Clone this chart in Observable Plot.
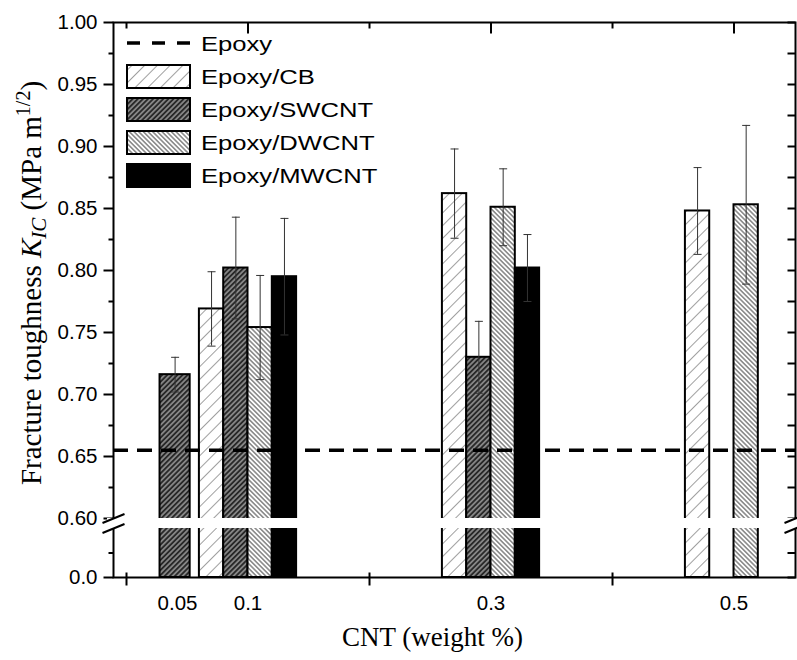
<!DOCTYPE html>
<html>
<head>
<meta charset="utf-8">
<script src="https://cdn.jsdelivr.net/npm/d3@7"></script>
<script src="https://cdn.jsdelivr.net/npm/@observablehq/plot@0.6"></script>
<style>
  html, body { margin: 0; padding: 0; background: #fff; overflow: hidden; }
  #chart { position: relative; width: 797px; height: 660px; }
</style>
</head>
<body>
<svg width="0" height="0" style="position:absolute">
  <defs>
    <pattern id="pat-cb" patternUnits="userSpaceOnUse" width="9" height="9" patternTransform="rotate(45)">
      <rect width="9" height="9" fill="#ffffff"/>
      <line x1="4.5" y1="0" x2="4.5" y2="9" stroke="#a0a0a0" stroke-width="1"/>
    </pattern>
    <pattern id="pat-sw" patternUnits="userSpaceOnUse" width="3.6" height="3.6" patternTransform="rotate(45)">
      <rect width="3.6" height="3.6" fill="#858585"/>
      <line x1="1.8" y1="0" x2="1.8" y2="3.6" stroke="#222222" stroke-width="1.7"/>
    </pattern>
    <pattern id="pat-dw" patternUnits="userSpaceOnUse" width="3.3" height="3.3" patternTransform="rotate(-45)">
      <rect width="3.3" height="3.3" fill="#ffffff"/>
      <line x1="1.65" y1="0" x2="1.65" y2="3.3" stroke="#555555" stroke-width="1.1"/>
    </pattern>
  </defs>
</svg>
<div id="chart"></div>
<script>
// ---------------- data ----------------
const concentrations = ["0.05", "0.1", "0.3", "0.5"];
const series = ["Epoxy/CB", "Epoxy/SWCNT", "Epoxy/DWCNT", "Epoxy/MWCNT"];
const cbValues = [null, 0.769, 0.862, 0.848];
const cbErrors = [null, 0.030, 0.036, 0.035];
const swValues = [0.716, 0.802, 0.730, null];
const swErrors = [0.014, 0.041, 0.029, null];
const dwValues = [null, 0.754, 0.851, 0.853];
const dwErrors = [null, 0.042, 0.031, 0.064];
const mwValues = [null, 0.795, 0.802, null];
const mwErrors = [null, 0.047, 0.027, null];
const epoxyValue = 0.655;
const epoxyLabel = "Epoxy";
const yMajorTicks = [0, 0.60, 0.65, 0.70, 0.75, 0.80, 0.85, 0.90, 0.95, 1.00];
const yMinorTicks = [0.05, 0.625, 0.675, 0.725, 0.775, 0.825, 0.875, 0.925, 0.975];
const xLabel = "CNT (weight %)";

// ---------------- layout helpers ----------------
const values = [cbValues, swValues, dwValues, mwValues];
const errors = [cbErrors, swErrors, dwErrors, mwErrors];
const fills = ["url(#pat-cb)", "url(#pat-sw)", "url(#pat-dw)", "#000000"];
const xDomain = [0.4465, 3.253];
const gapLow = 0.1;          // top of the lower (broken) axis segment
const gapHigh = 0.6;         // bottom of the upper axis segment
const slot = 0.1;
function labelPos(ci) { return ci === 0 ? 0.71 : ci; }
function barSpan(ci, si) {
  if (ci === 0) return [0.7 - 0.062, 0.7 + 0.062];
  const c = ci + (si - 1.5) * slot;
  return [c - slot / 2, c + slot / 2];
}
const rows = [];
series.forEach((s, si) => {
  values[si].forEach((v, ci) => {
    if (v == null) return;
    const [x1, x2] = barSpan(ci, si);
    rows.push({series: s, conc: concentrations[ci], value: v, err: errors[si][ci], x1, x2, xc: (x1 + x2) / 2});
  });
});
const caps = rows.flatMap(d => [{x: d.xc, y: d.value + d.err}, {x: d.xc, y: d.value - d.err}]);
const boundaries = [0.5, 1.5, 2.5];
const centers = [1, 2, 3];

// ---------------- custom symbols ----------------
const sym = (f) => ({draw: f});
const leftMajor = sym(c => { c.moveTo(0, 0); c.lineTo(-10, 0); });
const leftMinor = sym(c => { c.moveTo(0, 0); c.lineTo(-5, 0); });
const rightTick = sym(c => { c.moveTo(0, 0); c.lineTo(-8, 0); });
const topMajor = sym(c => { c.moveTo(0, 0); c.lineTo(0, 11); });
const topMinor = sym(c => { c.moveTo(0, 0); c.lineTo(0, 6); });
const bottomCross = sym(c => { c.moveTo(0, -5); c.lineTo(0, 8); });
const capSym = sym(c => { c.moveTo(-4, 0); c.lineTo(4, 0); });
const breakSym = sym(c => { c.moveTo(-11, 4.5); c.lineTo(11, -4.5); });

const fmt = d => d === 0 ? "0.0" : d3.format(".2f")(d);

const plot = Plot.plot({
  width: 797,
  height: 660,
  marginLeft: 113,
  marginRight: 2,
  marginTop: 22,
  marginBottom: 83,
  x: {type: "linear", domain: xDomain, axis: null},
  y: {type: "linear", domain: [0, gapLow, gapHigh, 1.0], range: [577, 528, 518, 22], axis: null},
  color: {type: "ordinal", domain: series, range: fills},
  style: {background: "white", color: "black", fontFamily: "Liberation Sans"},
  marks: [
    Plot.rect(rows, {x1: "x1", x2: "x2", y1: 0, y2: "value", fill: "series", stroke: "black", strokeWidth: 2}),
    Plot.ruleX(rows, {x: "xc", y1: d => d.value - d.err, y2: d => d.value + d.err, stroke: "#333", strokeWidth: 1}),
    Plot.dot(caps, {x: "x", y: "y", symbol: capSym, fill: "none", stroke: "#333", strokeWidth: 1}),
    Plot.ruleY([epoxyValue], {stroke: "black", strokeWidth: 3.5, strokeDasharray: "15,9"}),
    Plot.frame({stroke: "black", strokeWidth: 2}),
    // left axis
    Plot.dot(yMajorTicks, {y: d => d, frameAnchor: "left", symbol: leftMajor, fill: "none", stroke: "black", strokeWidth: 2}),
    Plot.dot(yMinorTicks, {y: d => d, frameAnchor: "left", symbol: leftMinor, fill: "none", stroke: "black", strokeWidth: 2}),
    Plot.text(yMajorTicks, {y: d => d, frameAnchor: "left", dx: -16, textAnchor: "end", text: fmt, fontSize: 20.5, fontFamily: "Liberation Sans", fill: "black"}),
    // right axis
    Plot.dot(yMajorTicks.concat(yMinorTicks), {y: d => d, frameAnchor: "right", symbol: rightTick, fill: "none", stroke: "black", strokeWidth: 2}),
    // top axis
    Plot.dot(centers, {x: d => d, frameAnchor: "top", symbol: topMajor, fill: "none", stroke: "black", strokeWidth: 2}),
    Plot.dot(boundaries, {x: d => d, frameAnchor: "top", symbol: topMinor, fill: "none", stroke: "black", strokeWidth: 2}),
    // bottom axis
    Plot.dot(boundaries, {x: d => d, frameAnchor: "bottom", symbol: bottomCross, fill: "none", stroke: "black", strokeWidth: 2}),
    Plot.text(concentrations, {x: (d, i) => labelPos(i), frameAnchor: "bottom", dy: 26, text: d => d, lineAnchor: "middle", fontSize: 20.5, fontFamily: "Liberation Sans", fill: "black"}),
    // axis break
    Plot.rect([0], {x1: xDomain[0], x2: xDomain[1], y1: gapLow, y2: gapHigh, fill: "white", insetLeft: -6, insetRight: -6}),
    Plot.dot([gapLow, gapHigh], {x: xDomain[0], y: d => d, symbol: breakSym, fill: "none", stroke: "black", strokeWidth: 2}),
    Plot.dot([gapLow, gapHigh], {x: xDomain[1], y: d => d, symbol: breakSym, fill: "none", stroke: "black", strokeWidth: 2}),
    // x label
    Plot.text([xLabel], {frameAnchor: "bottom", dx: -22, dy: 60, text: d => d, lineAnchor: "middle", fontSize: 27, fontFamily: "Liberation Serif", fill: "black"})
  ]
});

document.getElementById("chart").appendChild(plot);

// ---------------- y label (with sub/superscripts) ----------------
const svg = d3.select(plot);
const yl = svg.append("text")
  .attr("transform", "translate(41,283) rotate(-90)")
  .attr("text-anchor", "middle")
  .attr("font-family", "Liberation Serif")
  .attr("font-size", 29)
  .attr("fill", "black");
yl.append("tspan").text("Fracture toughness ");
yl.append("tspan").attr("font-style", "italic").text("K");
yl.append("tspan").attr("font-style", "italic").attr("font-size", 21).attr("dy", 5).text("IC");
yl.append("tspan").attr("dy", -5).text(" (MPa m");
yl.append("tspan").attr("font-size", 20).attr("dy", -11).text("1/2");
yl.append("tspan").attr("dy", 11).text(")");

// ---------------- legend ----------------
const lg = svg.append("g").attr("class", "legend");
const rowY = [43, 76.5, 109.5, 142.5, 175.5];
lg.append("line").attr("x1", 127).attr("x2", 192).attr("y1", rowY[0]).attr("y2", rowY[0])
  .attr("stroke", "black").attr("stroke-width", 3.5).attr("stroke-dasharray", "13,12");
series.forEach((s, i) => {
  lg.append("rect").attr("x", 127).attr("y", rowY[i + 1] - 11.5).attr("width", 63).attr("height", 23)
    .attr("fill", fills[i]).attr("stroke", "black").attr("stroke-width", 2);
});
[epoxyLabel].concat(series).forEach((s, i) => {
  lg.append("text").attr("transform", `translate(201,${rowY[i] + 7.5}) scale(1.22,1)`)
    .attr("text-anchor", "start")
    .attr("font-family", "Liberation Sans").attr("font-size", 21).attr("fill", "black").text(s);
});
</script>
</body>
</html>
